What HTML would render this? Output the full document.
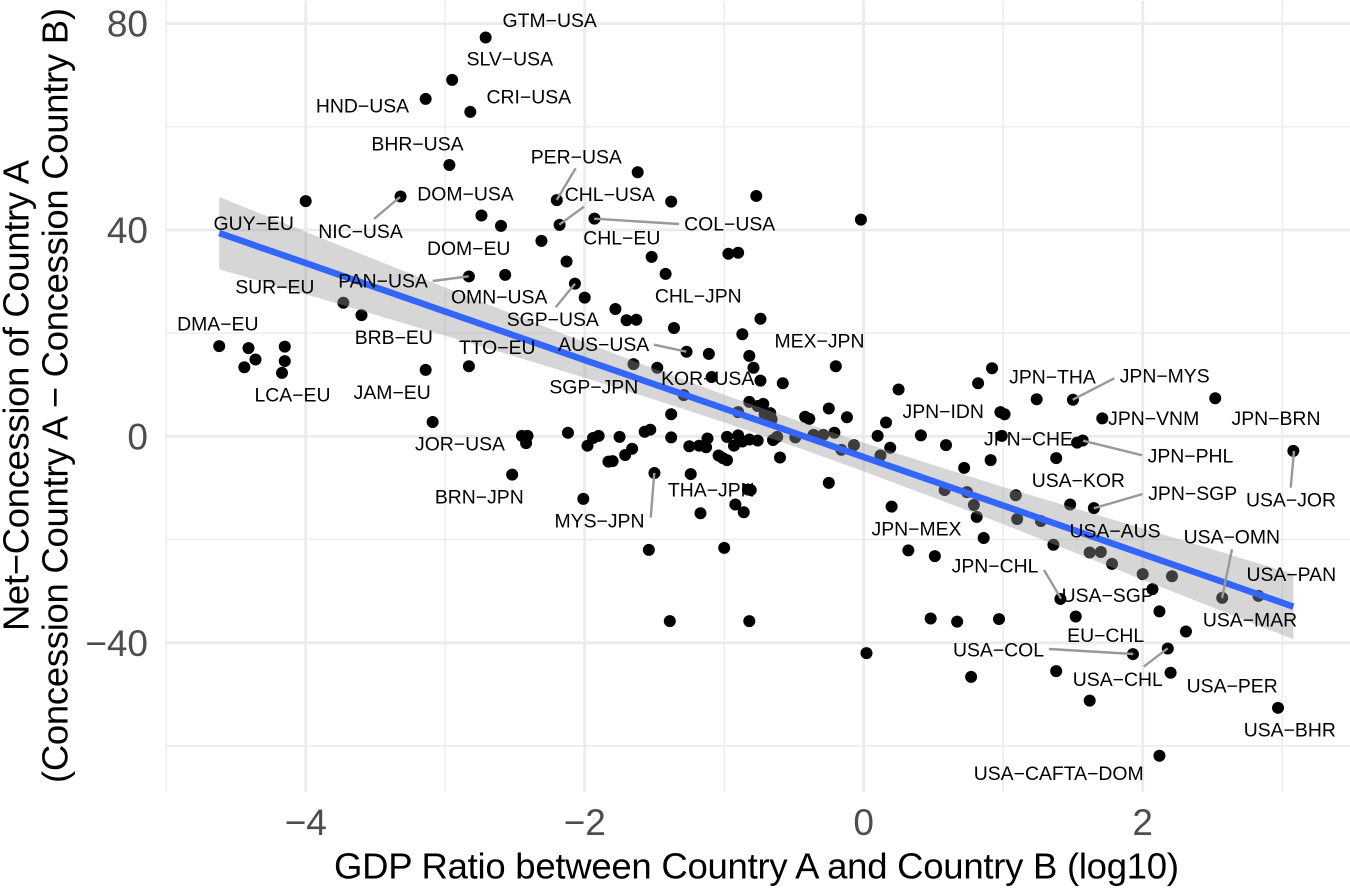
<!DOCTYPE html>
<html lang="en">
<head>
<meta charset="utf-8">
<title>Net Concession vs GDP Ratio</title>
<style>
html,body{margin:0;padding:0;background:#fff;}
body{width:1350px;height:889px;overflow:hidden;}
svg{display:block;font-family:"Liberation Sans",Arial,sans-serif;}
.tick{font-size:37px;fill:#4d4d4d;}
.title{font-size:36.5px;fill:#000;}
.lab text{font-size:19.4px;fill:#000;text-anchor:middle;}
.seg line{stroke:#999;stroke-width:2.4;}
</style>
</head>
<body>
<svg id="chart" width="1350" height="889" viewBox="0 0 1350 889" xmlns="http://www.w3.org/2000/svg">
  <g id="grid"></g>
  <g id="points"></g>
  <polygon id="ribbon" fill="#999999" fill-opacity="0.4"></polygon>
  <polyline id="fitline" fill="none" stroke="#3366FF" stroke-width="6.5"></polyline>
  <g class="seg">
    <line x1="400" y1="197" x2="374" y2="219"/>
    <line x1="556.7" y1="200" x2="575.7" y2="168.3"/>
    <line x1="559.3" y1="224.7" x2="584" y2="206.7"/>
    <line x1="594" y1="218.7" x2="679" y2="224"/>
    <line x1="468.7" y1="276.3" x2="432.7" y2="281"/>
    <line x1="575" y1="283.7" x2="555.7" y2="307.3"/>
    <line x1="686.3" y1="351.7" x2="654" y2="344.7"/>
    <line x1="1072.7" y1="399.7" x2="1114.3" y2="378.3"/>
    <line x1="1083" y1="440.7" x2="1142.3" y2="455.3"/>
    <line x1="1093.7" y1="508.3" x2="1142.7" y2="494"/>
    <line x1="1294" y1="451" x2="1290.7" y2="487.7"/>
    <line x1="654.3" y1="473" x2="650.7" y2="517.7"/>
    <line x1="1222" y1="598" x2="1232" y2="549.3"/>
    <line x1="1061" y1="598.7" x2="1044" y2="570"/>
    <line x1="1133.3" y1="654" x2="1049" y2="649"/>
    <line x1="1167.7" y1="648.3" x2="1143.7" y2="666.7"/>
  </g>
  <g class="lab">
    <text x="549.7" y="27">GTM−USA</text>
    <text x="509.8" y="65.7">SLV−USA</text>
    <text x="528.8" y="103.7">CRI−USA</text>
    <text x="362.5" y="112.3">HND−USA</text>
    <text x="417.5" y="150.3">BHR−USA</text>
    <text x="576.3" y="163.3">PER−USA</text>
    <text x="465.5" y="200.7">DOM−USA</text>
    <text x="609.8" y="201">CHL−USA</text>
    <text x="253.7" y="230">GUY−EU</text>
    <text x="360.5" y="238">NIC−USA</text>
    <text x="729.7" y="230.3">COL−USA</text>
    <text x="621.8" y="244.7">CHL−EU</text>
    <text x="468.7" y="255">DOM−EU</text>
    <text x="383" y="287.7">PAN−USA</text>
    <text x="274.8" y="293.3">SUR−EU</text>
    <text x="499.2" y="303.7">OMN−USA</text>
    <text x="698.3" y="302.7">CHL−JPN</text>
    <text x="552.8" y="326">SGP−USA</text>
    <text x="217.8" y="330.7">DMA−EU</text>
    <text x="393.8" y="344">BRB−EU</text>
    <text x="819.5" y="347.3">MEX−JPN</text>
    <text x="603.7" y="351">AUS−USA</text>
    <text x="497.2" y="354">TTO−EU</text>
    <text x="1052.5" y="383.3">JPN−THA</text>
    <text x="1164.7" y="382.7">JPN−MYS</text>
    <text x="707.7" y="385">KOR−USA</text>
    <text x="593.8" y="393.3">SGP−JPN</text>
    <text x="392.2" y="399">JAM−EU</text>
    <text x="292.5" y="401.3">LCA−EU</text>
    <text x="943.2" y="418">JPN−IDN</text>
    <text x="1153.7" y="425">JPN−VNM</text>
    <text x="1276" y="425">JPN−BRN</text>
    <text x="1028.5" y="445.3">JPN−CHE</text>
    <text x="460" y="450.3">JOR−USA</text>
    <text x="1190.5" y="462.7">JPN−PHL</text>
    <text x="1078.3" y="487">USA−KOR</text>
    <text x="479.3" y="503.3">BRN−JPN</text>
    <text x="1192.7" y="500">JPN−SGP</text>
    <text x="711.3" y="496.3">THA−JPN</text>
    <text x="1291" y="506.3">USA−JOR</text>
    <text x="599.5" y="527.7">MYS−JPN</text>
    <text x="916.5" y="535.3">JPN−MEX</text>
    <text x="1115" y="537.3">USA−AUS</text>
    <text x="1231.8" y="543.7">USA−OMN</text>
    <text x="995" y="572.7">JPN−CHL</text>
    <text x="1291.3" y="581">USA−PAN</text>
    <text x="1107.7" y="602">USA−SGP</text>
    <text x="1250" y="626.7">USA−MAR</text>
    <text x="1105.7" y="642">EU−CHL</text>
    <text x="998.5" y="656.7">USA−COL</text>
    <text x="1117.8" y="686">USA−CHL</text>
    <text x="1232.2" y="692.3">USA−PER</text>
    <text x="1289.8" y="736.3">USA−BHR</text>
    <text x="1058.7" y="780">USA−CAFTA−DOM</text>
  </g>
  <g id="xticks"></g>
  <g id="yticks"></g>
  <text class="title" x="756.5" y="878.3" text-anchor="middle" textLength="845" lengthAdjust="spacing">GDP Ratio between Country A and Country B (log10)</text>
  <g>
    <text class="title" transform="translate(28.5,395.5) rotate(-90)" text-anchor="middle" textLength="471" lengthAdjust="spacing">Net−Concession of Country A</text>
    <text class="title" transform="translate(67.5,395.5) rotate(-90)" text-anchor="middle" textLength="775" lengthAdjust="spacing">(Concession Country A − Concession Country B)</text>
  </g>
</svg>
<script>
const xMajorTicks = [-4, -2, 0, 2];
const xMinorTicks = [-5, -3, -1, 1, 3];
const yMajorTicks = [80, 40, 0, -40];
const yMinorTicks = [60, 20, -20, -60];
const pointsX = [-2.71,-2.95,-3.14,-2.82,-2.97,-3.32,-4.00,-2.20,-2.74,-2.60,-2.18,-1.93,-2.31,-2.13,-2.83,-2.57,-2.07,-2.00,-3.73,-3.60,-4.62,-4.41,-4.36,-4.44,-4.15,-4.15,-4.17,-3.14,-2.83,-3.09,-2.45,-2.41,-2.42,-2.12,-1.90,-1.94,-1.98,-1.83,-2.52,-2.01,-1.62,-1.38,-0.77,-0.02,-0.97,-0.90,-1.52,-1.42,-1.78,-1.70,-1.63,-1.36,-0.74,-0.87,-1.27,-1.11,-0.82,-0.20,-0.79,-1.65,-1.48,-1.09,-0.74,-0.58,0.25,-1.29,-0.82,-0.72,-0.76,-0.90,-0.67,-0.71,-0.66,-1.38,-0.25,-0.42,-0.39,-0.12,0.16,0.10,0.41,0.19,0.12,-0.21,-0.29,-0.36,-0.49,-0.62,-0.65,-0.16,-0.07,-0.60,-0.25,-1.75,-1.53,-1.57,-1.38,-1.66,-1.71,-1.80,-1.25,-1.18,-1.13,-1.12,-0.98,-0.90,-0.93,-0.87,-0.82,-0.76,-1.04,-1.01,-0.98,-1.50,-1.24,-0.83,-0.81,-0.92,-0.86,-1.17,-1.54,-1.00,-1.39,-0.82,0.20,0.32,0.92,0.82,1.24,1.50,2.52,0.98,1.01,1.71,0.59,0.99,1.53,1.57,0.91,1.38,3.08,0.72,0.58,0.74,0.79,1.09,1.48,1.65,0.81,1.10,1.27,0.86,1.36,0.51,1.62,1.70,1.78,2.00,2.21,2.07,1.41,2.57,2.83,2.12,1.52,0.48,0.67,0.97,2.31,1.93,2.18,0.02,1.38,2.20,0.77,1.62,2.97,2.12];
const pointsY = [77.3,69.1,65.4,62.9,52.6,46.5,45.6,45.8,42.8,40.8,41.0,42.2,37.9,33.9,31.0,31.3,29.6,26.9,25.9,23.5,17.5,17.1,14.9,13.4,17.4,14.6,12.3,12.9,13.6,2.8,0.1,0.1,-1.3,0.7,0.1,-0.3,-1.8,-4.9,-7.4,-12.1,51.2,45.5,46.6,42.0,35.4,35.6,34.8,31.5,24.7,22.5,22.6,21.0,22.8,19.8,16.4,16.0,15.6,13.6,13.3,14.0,13.3,11.5,10.8,10.3,9.1,8.0,6.7,6.3,5.9,4.7,4.5,4.3,3.3,4.3,5.4,3.8,3.4,3.7,2.7,0.1,0.2,-2.2,-3.7,0.7,0.3,0.3,-0.2,-0.1,-0.7,-2.6,-1.7,-4.1,-9.0,-0.1,1.3,0.9,-0.2,-2.4,-3.6,-4.8,-1.9,-1.8,-2.1,-0.4,-0.1,0.2,-1.8,-1.0,-0.6,-0.8,-3.7,-4.2,-4.6,-7.1,-7.3,-10.3,-10.4,-13.2,-14.7,-14.9,-22.0,-21.6,-35.8,-35.8,-13.6,-22.1,13.2,10.3,7.2,7.1,7.4,4.7,4.3,3.5,-1.7,0.1,-1.2,-0.8,-4.6,-4.2,-2.8,-6.1,-10.4,-10.8,-13.3,-11.4,-13.2,-13.9,-15.6,-16.0,-16.4,-19.7,-21.0,-23.2,-22.5,-22.4,-24.7,-26.7,-27.1,-29.6,-31.5,-31.3,-30.9,-33.9,-34.9,-35.3,-35.9,-35.4,-37.8,-42.2,-41.1,-42.0,-45.5,-45.8,-46.6,-51.2,-52.6,-61.9];
const fitX = [-4.62,-4,-3.5,-3,-2.5,-2,-1.5,-1,-0.5,0,0.5,1,1.5,2,2.5,3.08];
const fitY = [39.4,33.6,28.9,24.2,19.5,14.8,10.1,5.4,0.7,-4.0,-8.7,-13.4,-18.1,-22.8,-27.5,-33.0];
const fitUpper = [46.4,39.66,34.25,28.86,23.52,18.24,13.08,8.08,3.3,-1.23,-5.55,-9.8,-13.83,-17.82,-21.87,-26.7];
const fitLower = [32.4,27.54,23.55,19.54,15.48,11.36,7.12,2.72,-1.9,-6.77,-11.85,-17.0,-22.37,-27.78,-33.13,-39.3];

const NS = 'http://www.w3.org/2000/svg';
const panelLeft = 166, panelRight = 1350, panelTop = 1, panelBottom = 792;
function sx(v) { return 863.7 + 139.5 * v; }
function sy(v) { return 436.4 - 5.16 * v; }
function fmt(v) { return String(v).replace('-', '\u2212'); }

const gridG = document.getElementById('grid');
function addGrid(x1, y1, x2, y2, w, name) {
  const l = document.createElementNS(NS, 'line');
  l.setAttribute('x1', x1); l.setAttribute('y1', y1);
  l.setAttribute('x2', x2); l.setAttribute('y2', y2);
  l.setAttribute('stroke', '#ebebeb');
  l.setAttribute('stroke-width', w);
  
  
  gridG.appendChild(l);
}
xMinorTicks.forEach(function (t) { addGrid(sx(t), panelTop, sx(t), panelBottom, 1.4, 'x-minor-gridline'); });
yMinorTicks.forEach(function (t) { addGrid(panelLeft, sy(t), panelRight, sy(t), 1.4, 'y-minor-gridline'); });
xMajorTicks.forEach(function (t) { addGrid(sx(t), panelTop, sx(t), panelBottom, 2.8, 'x-major-gridline'); });
yMajorTicks.forEach(function (t) { addGrid(panelLeft, sy(t), panelRight, sy(t), 2.8, 'y-major-gridline'); });

const xTickG = document.getElementById('xticks');
xMajorTicks.forEach(function (t) {
  const el = document.createElementNS(NS, 'text');
  el.setAttribute('class', 'tick');
  el.setAttribute('x', sx(t));
  el.setAttribute('y', 835);
  el.setAttribute('text-anchor', 'middle');
  
  
  el.textContent = fmt(t);
  xTickG.appendChild(el);
});
const yTickG = document.getElementById('yticks');
yMajorTicks.forEach(function (t) {
  const el = document.createElementNS(NS, 'text');
  el.setAttribute('class', 'tick');
  el.setAttribute('x', 148);
  el.setAttribute('y', sy(t) + 13);
  el.setAttribute('text-anchor', 'end');
  
  
  el.textContent = fmt(t);
  yTickG.appendChild(el);
});

const ptG = document.getElementById('points');
pointsX.forEach(function (v, i) {
  const c = document.createElementNS(NS, 'circle');
  c.setAttribute('cx', sx(v));
  c.setAttribute('cy', sy(pointsY[i]));
  c.setAttribute('r', 6);
  c.setAttribute('fill', '#000');
  
  
  ptG.appendChild(c);
});

const upperPts = fitX.map(function (v, i) { return sx(v) + ',' + sy(fitUpper[i]); });
const lowerPts = fitX.map(function (v, i) { return sx(v) + ',' + sy(fitLower[i]); }).reverse();
document.getElementById('ribbon').setAttribute('points', upperPts.concat(lowerPts).join(' '));
document.getElementById('fitline').setAttribute('points', fitX.map(function (v, i) { return sx(v) + ',' + sy(fitY[i]); }).join(' '));
</script>
</body>
</html>
